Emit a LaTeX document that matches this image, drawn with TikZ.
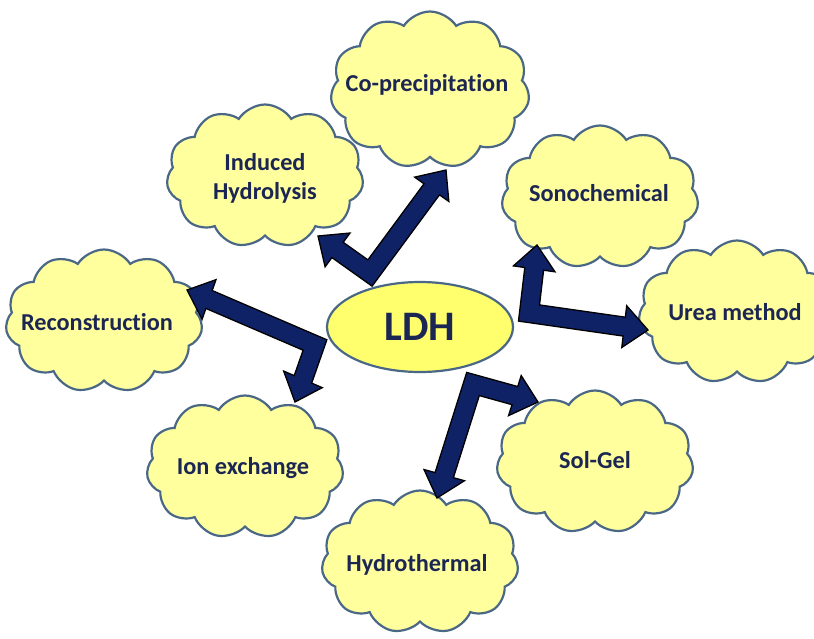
\documentclass[tikz,border=0pt]{standalone}
\usepackage{fontspec}
\setmainfont{Carlito}[Ligatures=NoCommon]
\usetikzlibrary{shapes.symbols,shapes.geometric,calc}
\definecolor{cloudfill}{RGB}{255,255,158}
\definecolor{ellfill}{RGB}{255,255,110}
\definecolor{edgecol}{RGB}{74,104,134}
\definecolor{navyfill}{RGB}{16,34,102}
\definecolor{txtcol}{RGB}{28,38,82}
\tikzset{
  cloudbox/.style={cloud, cloud puffs=11, cloud puff arc=115, cloud ignores aspect,
    draw=edgecol, line width=2.2pt, fill=cloudfill,
    minimum width=197pt, minimum height=143pt, inner sep=0pt},
  lbl/.style={font=\bfseries\fontsize{24.3}{29}\selectfont, text=txtcol, align=center, inner sep=0pt},
  arrowbody/.style={fill=navyfill, draw=black, line width=1.3pt, line join=miter},
  hub/.style={ellipse, draw=edgecol, line width=2.2pt, fill=ellfill,
    minimum width=186pt, minimum height=90pt, inner sep=0pt,
    font=\bfseries\fontsize{42}{50}\selectfont, text=txtcol}
}
% #1 = corner coordinate, #2 = first tip, #3 = second tip
\newcommand{\elbowarrow}[3]{%
  \coordinate (#1-b1) at ($(#2)!24pt!(#1)$);
  \coordinate (#1-b2) at ($(#3)!24pt!(#1)$);
  \filldraw[arrowbody]
    ($(#1)!-9.5pt!(#2)+(#1)!-9.5pt!(#3)-(#1)$)
    -- ($(#1-b1)+(#1)!-9.5pt!(#3)-(#1)$)
    -- ($(#1-b1)+(#1)!-21pt!(#3)-(#1)$)
    -- (#2)
    -- ($(#1-b1)+(#1)!21pt!(#3)-(#1)$)
    -- ($(#1-b1)+(#1)!9.5pt!(#3)-(#1)$)
    -- ($(#1)!9.5pt!(#2)+(#1)!9.5pt!(#3)-(#1)$)
    -- ($(#1-b2)+(#1)!9.5pt!(#2)-(#1)$)
    -- ($(#1-b2)+(#1)!21pt!(#2)-(#1)$)
    -- (#3)
    -- ($(#1-b2)+(#1)!-21pt!(#2)-(#1)$)
    -- ($(#1-b2)+(#1)!-9.5pt!(#2)-(#1)$)
    -- cycle;
}
\begin{document}
\begin{tikzpicture}[x=1pt,y=-1pt]
\useasboundingbox (0,0) rectangle (814,638);
% clouds
\node[cloudbox, minimum height=157pt, minimum width=199pt] (copre)  at (430,90)  {};
\node[cloudbox] (induc)  at (265,176) {};
\node[cloudbox] (sono)   at (600,197) {};
\node[cloudbox] (urea)   at (737,312) {};
\node[cloudbox] (recon)  at (104,321) {};
\node[cloudbox] (ionex)  at (245,467) {};
\node[cloudbox] (solgel) at (595,462) {};
\node[cloudbox] (hydro)  at (420,562) {};
% elbow arrows
\coordinate (a1) at (370,273); \coordinate (a1t1) at (446,170); \coordinate (a1t2) at (318,236);
\coordinate (a2) at (315,345); \coordinate (a2t1) at (187,290); \coordinate (a2t2) at (295,402);
\coordinate (a3) at (529,313); \coordinate (a3t1) at (537,245); \coordinate (a3t2) at (648,330);
\coordinate (a4) at (473,384); \coordinate (a4t1) at (538,402); \coordinate (a4t2) at (437,498);
\elbowarrow{a1}{a1t1}{a1t2}
\elbowarrow{a2}{a2t1}{a2t2}
\elbowarrow{a3}{a3t1}{a3t2}
\elbowarrow{a4}{a4t1}{a4t2}
% hub
\node[hub] (ldh) at (420,327) {LDH};
% labels
\node[lbl] (tcopre)  at (427,85)  {Co-precipitation};
\node[lbl] (tinduc)  at (265,178) {Induced\\Hydrolysis};
\node[lbl] (tsono)   at (599,193) {Sonochemical};
\node[lbl] (turea)   at (735,312) {Urea method};
\node[lbl] (trecon)  at (97,322)  {Reconstruction};
\node[lbl] (tionex)  at (243,468) {Ion exchange};
\node[lbl] (tsolgel) at (595,460) {Sol-Gel};
\node[lbl] (thydro)  at (417,565) {Hydrothermal};
\end{tikzpicture}
\end{document}
